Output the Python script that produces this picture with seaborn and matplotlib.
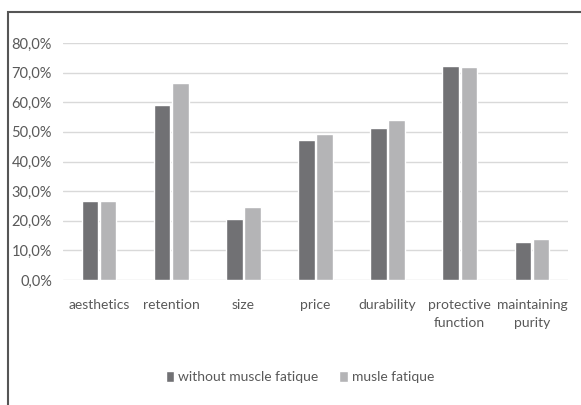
import pandas as pd
import matplotlib.pyplot as plt
import seaborn as sns
from matplotlib.patches import Rectangle
from matplotlib.ticker import FuncFormatter

categories = ['aesthetics', 'retention', 'size', 'price', 'durability',
              'protective\nfunction', 'maintaining\npurity']
without_fatigue = [26.5, 59.1, 20.6, 47.3, 51.4, 72.3, 12.8]
with_fatigue = [26.5, 66.5, 24.7, 49.3, 54.1, 72.0, 13.8]
series_names = ['without muscle fatique', 'musle fatique']

df = pd.DataFrame({
    'category': categories * 2,
    'value': without_fatigue + with_fatigue,
    'group': [series_names[0]] * len(categories) + [series_names[1]] * len(categories),
})

sns.set_style('white')
plt.rcParams['font.family'] = ['Lato', 'DejaVu Sans']
txt = '#595959'

fig = plt.figure(figsize=(5.81, 4.05), dpi=100)
ax = fig.add_axes([63 / 581, 125 / 405, 505 / 581, 237 / 405])

sns.barplot(data=df, x='category', y='value', hue='group', order=categories,
            hue_order=series_names, palette=['#717174', '#b4b4b6'],
            width=0.5, gap=0.08, saturation=1, ax=ax, legend=True)

ax.set_ylim(0, 80)
ax.set_yticks(range(0, 81, 10))
ax.yaxis.set_major_formatter(FuncFormatter(lambda v, p: f'{v:.1f}%'.replace('.', ',')))
ax.grid(axis='y', color='#d9d9d9', linewidth=1)
ax.set_axisbelow(True)
for s in ax.spines.values():
    s.set_visible(False)
ax.set_xlabel('')
ax.set_ylabel('')
ax.tick_params(axis='both', length=0, colors=txt)
ax.tick_params(axis='y', pad=8, labelsize=10.5)
ax.tick_params(axis='x', pad=14, labelsize=10)
for lab in ax.get_xticklabels():
    lab.set_linespacing(1.6)

ax.legend(loc='center', bbox_to_anchor=(300 / 581, 28 / 405), bbox_transform=fig.transFigure,
          ncol=2, frameon=False, fontsize=10, labelcolor=txt, handlelength=0.6,
          handleheight=0.9, handletextpad=0.3, columnspacing=1.5)

# outer frame of the original figure (cropped on right and bottom)
fig.patches.append(Rectangle((8 / 581, -0.1), 1.2, (393 / 405) + 0.1, transform=fig.transFigure,
                             fill=False, edgecolor='#555555', linewidth=1.5))

fig.savefig('out.png', dpi=100)
